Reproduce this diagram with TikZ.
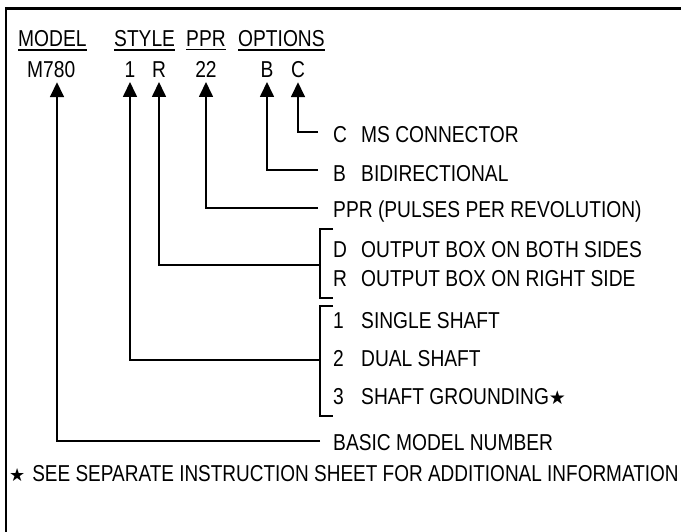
\documentclass[tikz,border=0pt]{standalone}
\usepackage{fontspec}
\setmainfont[FakeStretch=0.835]{Liberation Sans}
\newfontfamily\fnfont[FakeStretch=0.825]{Liberation Sans}
\newfontfamily\symfont{DejaVu Sans}
\usetikzlibrary{arrows.meta}
\newcommand{\mystar}[1]{{\symfont\fontsize{#1}{22}\selectfont ★}}
\begin{document}
\begin{tikzpicture}[x=1pt,y=-1pt,
  lab/.style={anchor=base west,inner sep=0pt,font=\fontsize{23}{27}\selectfont},
  codeup/.style={anchor=base,inner sep=0pt,outer ysep=4pt,font=\fontsize{23}{27}\selectfont},
  conn/.style={line width=1.7pt},
  arr/.style={conn,-{Triangle[length=15pt,width=14pt]}},
  uline/.style={line width=1.2pt}]
\useasboundingbox (0,0) rectangle (681,532);
% frame
\draw[line width=2.2pt] (681,8.5) -- (6,8.5) -- (6,532);
% headers
\node[lab] (hmodel) at (18,47) {MODEL};
\node[lab] (hstyle) at (114,47) {STYLE};
\node[lab] (hppr) at (186,47) {PPR};
\node[lab] (hopt) at (238,47) {OPTIONS};
\foreach \h in {hmodel,hstyle,hppr,hopt}
  \draw[uline] ([yshift=-2.5pt]\h.south west) -- ([yshift=-2.5pt]\h.south east);
% code row
\node[lab,outer ysep=4pt] (cm) at (27,78) {M780};
\node[codeup] (c1) at (130,78) {1};
\node[codeup] (cr) at (159,78) {R};
\node[codeup] (c22) at (206,78) {22};
\node[codeup] (cb) at (267,78) {B};
\node[codeup] (cc) at (298,78) {C};
% descriptions
\node[lab] (lc) at (333,143) {C};
\node[lab] (dc) at (361,143) {MS CONNECTOR};
\node[lab] (lb) at (333,181.5) {B};
\node[lab] (db) at (361,181.5) {BIDIRECTIONAL};
\node[lab] (dp) at (333,218) {PPR (PULSES PER REVOLUTION)};
\node[lab] (ld) at (333,258) {D};
\node[lab] (dd) at (361,258) {OUTPUT BOX ON BOTH SIDES};
\node[lab] (lr) at (333,287) {R};
\node[lab] (dr) at (361,287) {OUTPUT BOX ON RIGHT SIDE};
\node[lab] (l1) at (333,328) {1};
\node[lab] (d1) at (361,328) {SINGLE SHAFT};
\node[lab] (l2) at (333,366) {2};
\node[lab] (d2) at (361,366) {DUAL SHAFT};
\node[lab] (l3) at (333,404) {3};
\node[lab] (d3) at (361,404) {SHAFT GROUNDING\mystar{19}};
\node[lab] (dm) at (333,450) {BASIC MODEL NUMBER};
\node[lab] (fn) at (9,481) {\mystar{18}\hspace{7pt}\fnfont SEE SEPARATE INSTRUCTION SHEET FOR ADDITIONAL INFORMATION};
% junction points
\coordinate (jc) at (318,132);
\coordinate (jb) at (318,170);
\coordinate (jp) at (318,208);
\coordinate (jr) at (320,265);
\coordinate (j1) at (320,360);
\coordinate (jm) at (320,441);
% brackets
\draw[conn] (333,229) -- (320,229) -- (320,298) -- (333,298);
\draw[conn] (333,306) -- (320,306) -- (320,416) -- (333,416);
% connectors
\draw[arr] (jc) -| (cc.south);
\draw[arr] (jb) -| (cb.south);
\draw[arr] (jp) -| (c22.south);
\draw[arr] (jr) -| (cr.south);
\draw[arr] (j1) -| (c1.south);
\draw[arr] (jm) -| ([xshift=30pt]cm.south west);
\end{tikzpicture}
\end{document}
